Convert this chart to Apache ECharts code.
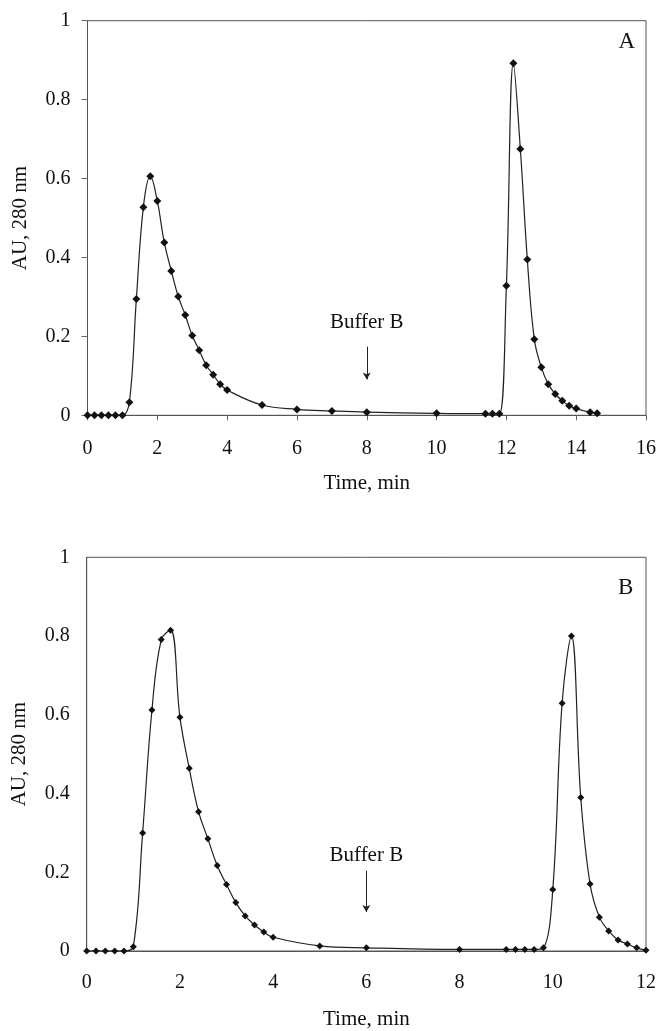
<!DOCTYPE html>
<html>
<head>
<meta charset="utf-8">
<script src="https://cdn.jsdelivr.net/npm/echarts@6/dist/echarts.min.js"></script>
<style>
html,body{margin:0;padding:0;background:#fff;}
#c{width:659px;height:1031px;}
</style>
</head>
<body>
<div id="c"></div>
<script>
// ---- Data ----
var timeA = [0,0.2,0.4,0.6,0.8,1.0,1.2,1.4,1.6,1.8,2.0,2.2,2.4,2.6,2.8,3.0,3.2,3.4,3.6,3.8,4.0,5,6,7,8,10,11.4,11.6,11.8,12.0,12.2,12.4,12.6,12.8,13.0,13.2,13.4,13.6,13.8,14.0,14.4,14.6];
var auA   = [0,0,0,0,0,0,0.033,0.295,0.527,0.606,0.543,0.438,0.366,0.301,0.254,0.202,0.165,0.127,0.103,0.079,0.064,0.026,0.015,0.011,0.008,0.005,0.004,0.004,0.004,0.328,0.892,0.675,0.395,0.193,0.122,0.079,0.054,0.037,0.024,0.017,0.008,0.005];

var timeB = [0,0.2,0.4,0.6,0.8,1.0,1.2,1.4,1.6,1.8,2.0,2.2,2.4,2.6,2.8,3.0,3.2,3.4,3.6,3.8,4.0,5,6,8,9.0,9.2,9.4,9.6,9.8,10.0,10.2,10.4,10.6,10.8,11.0,11.2,11.4,11.6,11.8,12.0];
var auB   = [0,0,0,0,0,0.011,0.30,0.612,0.791,0.815,0.594,0.464,0.354,0.285,0.217,0.169,0.123,0.089,0.066,0.048,0.035,0.013,0.008,0.004,0.004,0.004,0.004,0.004,0.008,0.156,0.629,0.80,0.39,0.17,0.086,0.051,0.028,0.018,0.008,0.002];

var yTicks = [0, 0.2, 0.4, 0.6, 0.8, 1];
var xMaxA = 16, xMaxB = 12, xStep = 2;

// Buffer B annotations: [time, textY, arrowTopY, arrowBottomY]
var bufferA = [8, 0.235, 0.174, 0.091];
var bufferB = [6, 0.242, 0.204, 0.099];
var panelLabels = ['A', 'B'];

var FONT = 'Liberation Serif';
function zip(xs, ys){ return xs.map(function(x,i){return [x, ys[i]];}); }

function xAxis(idx, max, ticks, margin){
  return {
    gridIndex: idx, type:'value', min:0, max:max, interval:xStep,
    name:'Time, min', nameLocation:'middle', nameGap:58,
    nameTextStyle:{fontFamily:FONT, fontSize:21, color:'#111'},
    axisLine:{show:true, lineStyle:{color:'#555', width:1}},
    axisTick:{show:ticks, inside:false, length:5, lineStyle:{color:'#666'}},
    axisLabel:{fontFamily:FONT, fontSize:20, color:'#111', margin:margin},
    splitLine:{show:false}
  };
}
function yAxis(idx, ticks){
  return {
    gridIndex: idx, type:'value', min:yTicks[0], max:yTicks[yTicks.length-1], interval:0.2,
    name:'AU, 280 nm', nameLocation:'middle', nameGap:57,
    nameTextStyle:{fontFamily:FONT, fontSize:21, color:'#111'},
    axisLine:{show:true, lineStyle:{color:'#555', width:1}},
    axisTick:{show:ticks, inside:false, length:6, lineStyle:{color:'#666'}},
    axisLabel:{fontFamily:FONT, fontSize:20, color:'#111', margin:17,
      formatter:function(v){ return String(Math.round(v*10)/10); }},
    splitLine:{show:false}
  };
}
function series(idx, data, buf, symSize){
  return {
    type:'line', xAxisIndex:idx, yAxisIndex:idx, data:data,
    smooth:0.4,
    symbol:'diamond', symbolSize:symSize, showSymbol:true,
    lineStyle:{color:'#222', width:1.2},
    itemStyle:{color:'#111'},
    animation:false, silent:true,
    markLine:{
      silent:true, symbol:['none','arrow'], symbolSize:[6,7],
      lineStyle:{color:'#222', width:1, type:'solid'},
      label:{show:false},
      data:[[{coord:[buf[0], buf[2]]},{coord:[buf[0], buf[3]]}]]
    },
    markPoint:{
      silent:true, symbol:'rect', symbolSize:1,
      itemStyle:{color:'rgba(0,0,0,0)'},
      label:{show:true, position:'inside', formatter:'Buffer B', fontFamily:FONT, fontSize:21, color:'#111'},
      data:[{coord:[buf[0], buf[1]]}]
    }
  };
}

var chart = echarts.init(document.getElementById('c'), null, {renderer:'canvas'});
chart.setOption({
  backgroundColor:'#fff',
  animation:false,
  grid:[
    {left:87.5, right:12, top:20.7, height:394.6, show:true, borderColor:'#555', borderWidth:1, backgroundColor:'transparent'},
    {left:86.7, right:13, top:557.3, height:397, show:true, borderColor:'#555', borderWidth:1, backgroundColor:'transparent'}
  ],
  xAxis:[xAxis(0, xMaxA, true, 23), xAxis(1, xMaxB, false, 22)],
  yAxis:[yAxis(0, true), yAxis(1, false)],
  series:[series(0, zip(timeA, auA), bufferA, 8), series(1, zip(timeB, auB), bufferB, 7)],
  graphic:[
    {type:'text', style:{x:626.7, y:41.7, text:panelLabels[0], font:'23px "Liberation Serif"', fill:'#111', align:'center', verticalAlign:'middle'}},
    {type:'text', style:{x:625.7, y:587.7, text:panelLabels[1], font:'23px "Liberation Serif"', fill:'#111', align:'center', verticalAlign:'middle'}}
  ]
});
</script>
</body>
</html>
